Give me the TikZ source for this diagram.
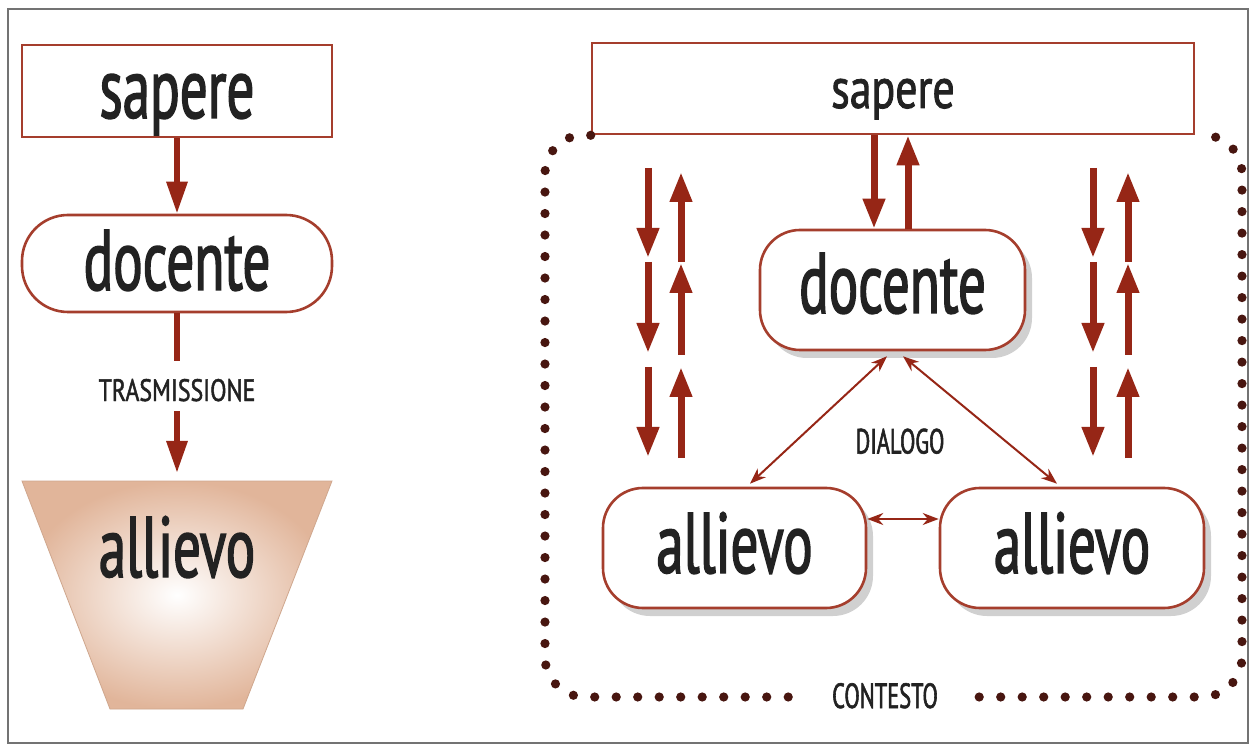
\documentclass[tikz,border=0pt]{standalone}
\usepackage{fontspec}
\newfontfamily\cf[FakeStretch=0.64,FakeBold=1.6]{PT Sans}
\newfontfamily\cfw[FakeStretch=0.77,FakeBold=1.4]{PT Sans}
\usetikzlibrary{arrows.meta,shadows}
\definecolor{boxred}{RGB}{165,62,45}
\definecolor{arrred}{RGB}{150,38,22}
\definecolor{dotbrown}{RGB}{72,22,16}
\definecolor{tanfill}{RGB}{225,181,154}
\definecolor{ink}{RGB}{34,34,34}
\definecolor{framegray}{RGB}{115,115,115}
\begin{document}
\begin{tikzpicture}[x=0.5pt,y=-0.5pt,
  box/.style={draw=boxred, line width=1.3pt, fill=white, inner sep=0pt, text=ink},
  rbox/.style={box, rounded corners=20pt,
     drop shadow={shadow xshift=3.5pt, shadow yshift=-4pt, opacity=0.3, fill=black!60}},
  big/.style={font=\cf\fontsize{43}{43}\selectfont, text depth=0pt},
  lab/.style={font=\cf\fontsize{17.5}{17.5}\selectfont, text=ink, inner sep=0pt, text height=11pt, text depth=0pt},
  bigarr/.style={draw=arrred, line width=3.5pt, -{Triangle[width=10.5pt,length=15pt]}},
  leftarr/.style={draw=arrred, line width=3pt, -{Triangle[width=10pt,length=16pt]}},
  dlg/.style={draw=arrred, line width=1pt, {Stealth[length=8pt,width=6pt]}-{Stealth[length=8pt,width=6pt]}},
  dots/.style={draw=dotbrown, line width=4.6pt, line cap=round, dash pattern=on 0pt off 10.75pt, rounded corners=20pt}
]
\useasboundingbox (0,0) rectangle (1254,754);
\fill[white] (0,0) rectangle (1254,754);
\draw[framegray, line width=1.2pt] (8,9) rectangle (1248,743);

% ---------- left column ----------
\node[box, minimum width=155pt, minimum height=46pt, big, text height=27pt] (sapL) at (177,91) {sapere};
\node[box, rounded corners=23pt, minimum width=155pt, minimum height=48.5pt, big, text height=26.5pt] (docL) at (177,263.5) {docente};
\node[lab, font=\cfw\fontsize{15.5}{15.5}\selectfont] (trasm) at (177,390) {TRASMISSIONE};
\coordinate (tTL) at (22,481);
\coordinate (tTR) at (332,481);
\coordinate (tBR) at (243,709);
\coordinate (tBL) at (110,709);
\coordinate (trtop) at (177,481);
\shade[inner color=white, outer color=tanfill, draw=tanfill!92!black, line width=0.4pt]
  (tTL) -- (tTR) -- (tBR) -- (tBL) -- cycle;
\node[big, text=ink, anchor=base, inner sep=0pt] (allL0) at (177,577) {allievo};

\draw[leftarr] (sapL.south) -- (docL.north);
\draw[draw=arrred, line width=3pt, shorten >=9pt] (docL.south) -- (trasm.north);
\draw[leftarr, shorten <=5pt, shorten >=4pt] (trasm.south) -- (trtop);

% ---------- right part ----------
\node[box, minimum width=301pt, minimum height=45.5pt, font=\cfw\fontsize{28.5}{28.5}\selectfont, text height=19.5pt, text depth=0pt] (sapR) at (893,88.5) {sapere};
\node[rbox, minimum width=132.5pt, minimum height=60pt, big, text height=23pt] (docR) at (892.5,290) {docente};
\node[rbox, minimum width=131.5pt, minimum height=60pt, big, text height=25pt] (allA) at (734.5,548) {allievo};
\node[rbox, minimum width=132pt, minimum height=60pt, big, text height=25pt] (allB) at (1072,548) {allievo};
\node[lab] (dial) at (900,442.5) {DIALOGO};
\node[lab] (cont) at (885,697) {CONTESTO};

% central arrows sapere <-> docente
\draw[bigarr] ([xshift=-9.5pt]sapR.south) -- ([xshift=-9.25pt]docR.north);
\draw[bigarr] ([xshift=7.75pt]docR.north) -- ([xshift=7.5pt]sapR.south);

% dialog arrows
\draw[dlg] ([xshift=-2.75pt,yshift=-2.5pt]docR.south) -- ([xshift=7.75pt,yshift=1.5pt]allA.north);
\draw[dlg] ([xshift=5.25pt,yshift=-2.5pt]docR.south) -- ([xshift=-7.5pt,yshift=1.5pt]allB.north);
\draw[dlg] ([yshift=14.5pt]allA.east) -- ([yshift=14.5pt]allB.west);

% side arrow columns
\foreach \n/\x in {a/648,b/1093}{
  \foreach \i/\ya/\yb in {1/168/258, 2/262/353, 3/367/457}{
    \coordinate (dn\n\i s) at (\x,\ya);
    \coordinate (dn\n\i e) at (\x,\yb);
    \draw[bigarr] (dn\n\i s) -- (dn\n\i e);
  }
}
\foreach \n/\x in {a/681,b/1128}{
  \foreach \i/\ya/\yb in {1/262/172, 2/355/263, 3/458/367}{
    \coordinate (up\n\i s) at (\x,\ya);
    \coordinate (up\n\i e) at (\x,\yb);
    \draw[bigarr] (up\n\i s) -- (up\n\i e);
  }
}

% dotted context
\coordinate (cTL) at (545,134);
\coordinate (cBL) at (545,697);
\coordinate (cBR) at (1242,697);
\coordinate (cTR) at (1242,134);
\draw[dots] (sapR.south west) -- (cTL) -- (cBL) -- ([xshift=-19pt]cont.west);
\draw[dots] ([xshift=20.5pt]cont.east) -- (cBR) -- (cTR) -- (sapR.south east);
\end{tikzpicture}
\end{document}
